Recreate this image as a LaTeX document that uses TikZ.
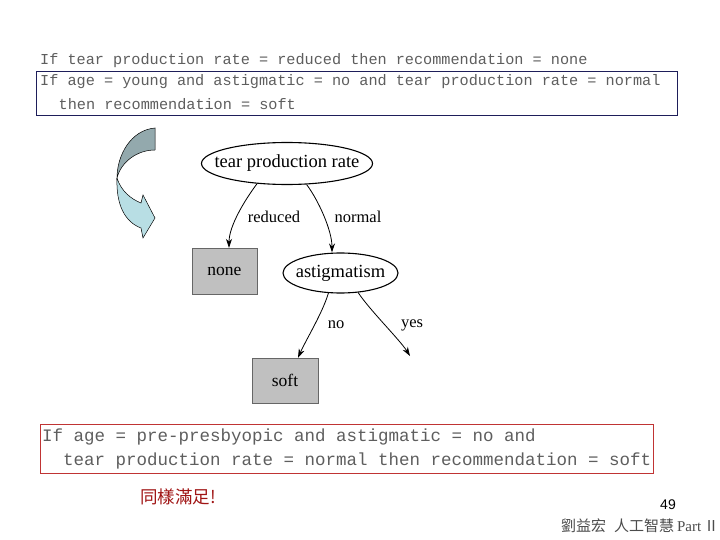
\documentclass[tikz,border=0pt]{standalone}
\usepackage{fontspec}
\setmainfont{Liberation Serif}
\newfontfamily\monof{Liberation Mono}
\newfontfamily\cjkf{Noto Sans CJK TC}
\newfontfamily\sansf{Liberation Sans}
\usetikzlibrary{arrows.meta,shapes.geometric}
\definecolor{rulegray}{HTML}{5E5E5E}
\definecolor{navyb}{HTML}{1E1E5A}
\definecolor{redb}{HTML}{C03434}
\definecolor{leafgray}{HTML}{C0C0C0}
\definecolor{arrdark}{HTML}{93A9AD}
\definecolor{arrlight}{HTML}{B8DEE4}
\definecolor{cjkred}{HTML}{A01414}
\tikzset{
  monoA/.style={font=\monof\fontsize{15.2}{18}\selectfont, text=rulegray, anchor=west, inner sep=0pt},
  monoB/.style={font=\monof\fontsize{17.5}{20}\selectfont, text=rulegray, anchor=west, inner sep=0pt},
  ell/.style={ellipse, draw, line width=1.1pt, inner sep=0pt, font=\fontsize{18.5}{20}\selectfont},
  leaf/.style={rectangle, draw=gray!80!black, fill=leafgray, inner sep=0pt, font=\fontsize{17.5}{20}\selectfont},
  edge/.style={-{Stealth[length=9pt,width=6pt]}, line width=0.8pt},
  elabel/.style={inner sep=0pt, font=\fontsize{16.5}{20}\selectfont}
}
\begin{document}
\begin{tikzpicture}[x=1pt,y=-1pt]
\useasboundingbox (0,0) rectangle (720,540);
\fill[white] (0,0) rectangle (720,540);

% top rules
\node[monoA] (r1) at (40,61) {If tear production rate = reduced then recommendation = none};
\draw[navyb, line width=1pt] (36,72) rectangle (677,116);
\node[monoA] (r2) at (40,82) {If age = young and astigmatic = no and tear production rate = normal};
\node[monoA] (r3) at (58.5,104) {then recommendation = soft};

% curved block arrow
\draw[fill=arrdark, line width=0.5pt] (155,128) .. controls (131,130) and (117,155) .. (117,178)
   .. controls (121,162) and (137,150) .. (155,150) -- cycle;
\draw[fill=arrlight, line width=0.5pt] (117,178) .. controls (121,191) and (131,199) .. (141,203)
   -- (143,195) -- (155,218) -- (143,238) -- (141,228)
   .. controls (125,222) and (116,205) .. (117,178) -- cycle;

% tree
\node[ell, minimum width=171, minimum height=42] (tpr) at (287,163.5) {\makebox[0pt]{tear production rate}};
\node[leaf, minimum width=65, minimum height=46] (none) at (224.5,271) {none};
\node[ell, minimum width=115, minimum height=40] (ast) at (340.5,273) {\makebox[0pt]{astigmatism}};
\node[leaf, minimum width=66, minimum height=45] (soft) at (285,380.5) {soft};
\coordinate (yesend) at (410,356);

\draw[edge] (tpr.214) .. controls +(-12,16) and +(0,-22) .. ([xshift=4.5pt]none.north);
\draw[edge] (tpr.-47) .. controls +(12,16) and +(0,-22) .. ([xshift=-8.5pt]ast.north);
\draw[edge] (ast.-121) .. controls +(-6,20) and +(8,-18) .. ([xshift=13pt]soft.north);
\draw[edge] (ast.-48) .. controls +(12,18) and +(-10,-16) .. (yesend);

\node[elabel] (lred) at (274,217) {reduced};
\node[elabel] (lnor) at (358,217) {normal};
\node[elabel] (lno) at (336,325) {no};
\node[elabel] (lyes) at (412,325) {yes};

% bottom rule
\draw[redb, line width=1pt] (40,424) rectangle (653,473);
\node[monoB] (r4) at (42,437) {If age = pre-presbyopic and astigmatic = no and};
\node[monoB] (r5) at (63,461) {tear production rate = normal then recommendation = soft};

% notes
\node[inner sep=0pt, text=cjkred, font=\cjkf\fontsize{17.5}{18}\selectfont] (same) at (178,497) {同樣滿足!};
\node[inner sep=0pt, font=\sansf\fontsize{14}{16}\selectfont] (pg) at (668,505) {49};
\node[inner sep=0pt, anchor=east, text=black!70, font=\cjkf\fontsize{15}{16}\selectfont] (foot) at (719,526) {劉益宏\hspace{8pt}人工智慧\hspace{3pt}{\rmfamily Part}\,Ⅱ};
\end{tikzpicture}
\end{document}
